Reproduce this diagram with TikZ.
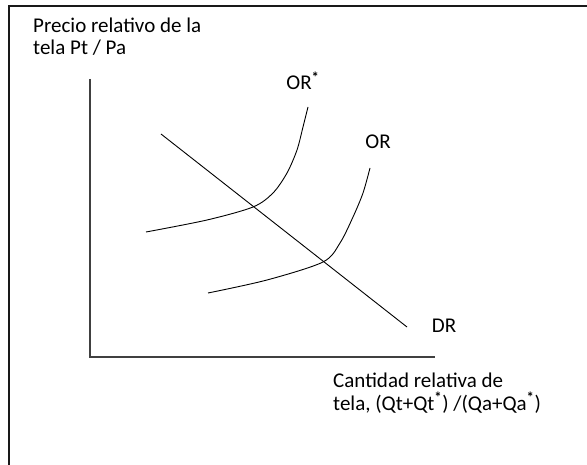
\documentclass[tikz,border=0pt]{standalone}
\usepackage{fontspec}
\setmainfont{Carlito}
\tikzstyle{frame}=[line width=2pt,black!90]
\tikzstyle{axis}=[line width=2pt,black!75]
\tikzstyle{curve}=[line width=0.9pt,black]
\tikzstyle{lbl}=[inner sep=0pt,font=\fontsize{21}{22.5}\selectfont]
\tikzstyle{axlbl}=[lbl,align=left,anchor=base west]
\newcommand{\str}{\textsuperscript{\textbf{*}}}

\begin{document}
\begin{tikzpicture}[x=1pt, y=-1pt]
  \useasboundingbox (0,0) rectangle (587,465);
  % frame
  \draw[frame] (9,465) -- (9,6) -- (587,6);

  % axes
  \coordinate (ytop) at (90,79);
  \coordinate (o) at (90,357);
  \coordinate (xend) at (435,357);
  \draw[axis] (ytop) -- (o) -- (xend);
  \node[axlbl] (ylab) at (33,55) {Precio relativo de la\\tela Pt / Pa};
  \node[axlbl] (xlab) at (333,410) {Cantidad relativa de\\tela, (Qt+Qt\str) /(Qa+Qa\str)};

  % demanda relativa
  \coordinate (dr1) at (161,134);
  \coordinate (dr2) at (407,327);
  \draw[curve] (dr1) -- (dr2);
  \node[lbl] (drlab) at (444,326) {DR};

  % ofertas relativas
  \draw[curve] plot[smooth] coordinates {(146,232) (207,220) (253,207)
    (273,193) (287,173) (297,150) (303,127) (308,107)};
  \node[lbl] (orslab) at (303,81) {OR\str};
  \draw[curve] plot[smooth] coordinates {(208,293) (267,280) (323,262)
    (340,243) (353,217) (363,193) (370,168)};
  \node[lbl] (orlab) at (378,142) {OR};
\end{tikzpicture}
\end{document}
